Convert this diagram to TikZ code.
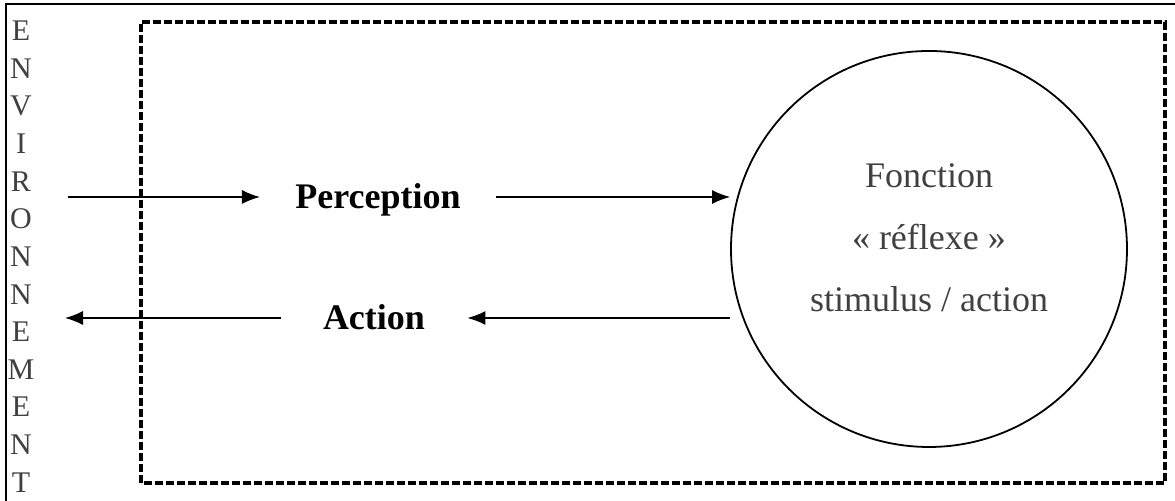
\documentclass[tikz,border=0pt]{standalone}
\usepackage{fontspec}
\setmainfont{Liberation Serif}
\usetikzlibrary{arrows.meta,positioning}
\tikzset{
  flow/.style={-{Latex[length=9pt,width=7pt]},line width=0.7pt},
  stage/.style={font=\fontsize{18}{20}\selectfont\bfseries,text height=12pt,text depth=0pt,inner ysep=0pt},
  envletter/.style={font=\fontsize{15}{16}\selectfont,text=black!75,inner sep=0pt}
}
\begin{document}
\begin{tikzpicture}[x=0.5pt,y=0.5pt]
    \useasboundingbox (0,0) rectangle (1175,501);
    \clip (0,0) rectangle (1175,501);
    % outer frame
    \draw[line width=1.3pt] (6,-10) -- (6,497) -- (1190,497);
    % agent box
    \draw[line width=2pt,dash pattern=on 4pt off 1.5pt] (141,18) rectangle (1165,479);
    % environment
    \foreach \ch [count=\i from 0] in {E,N,V,I,R,O,N,N,E,M,E,N,T}
        \node[envletter] (env\i) at (21,{470-37.6*\i}) {\ch};
    % reflex function
    \node[circle,draw,line width=0.9pt,minimum size=198pt,inner sep=0pt] (reflexe) at (929,252) {};
    \node[font=\fontsize{18}{31}\selectfont,text=black!75,align=center] (reflexeText) at (929,263.5)
        {Fonction\\« réflexe »\\stimulus / action};
    % perception / action
    \node[stage,inner xsep=17.5pt] (Perception) at (378,304) {Perception};
    \node[stage,inner xsep=21pt] (Action) at (374,183) {Action};
    \coordinate (envIn) at (68,304);
    \coordinate (envOut) at (65,183);
    \draw[flow] (envIn) -- (Perception);
    \draw[flow] (Perception) -- (Perception -| reflexe.west);
    \draw[flow] (Action -| reflexe.west) -- (Action);
    \draw[flow] (Action) -- (envOut);
\end{tikzpicture}
\end{document}
